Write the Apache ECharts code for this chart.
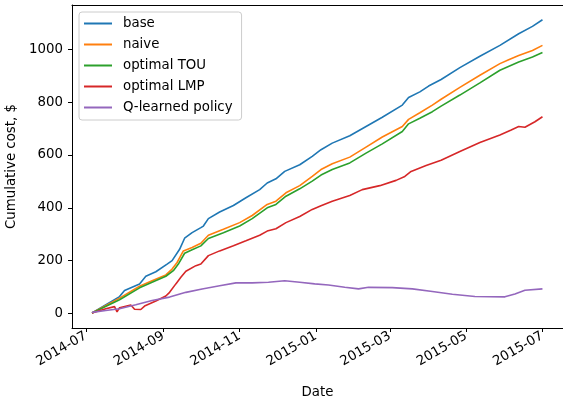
<!DOCTYPE html>
<html><head><meta charset="utf-8">
<script src="https://cdn.jsdelivr.net/npm/echarts@6/dist/echarts.min.js"></script>
<style>html,body{margin:0;padding:0;background:#fff;overflow:hidden}#c{width:563px;height:399px}</style>
</head><body><div id="c"></div>
<script>
const seriesNames = ['base', 'naive', 'optimal TOU', 'optimal LMP', 'Q-learned policy'];
const yTicks = [0, 200, 400, 600, 800, 1000];
const xTicks = ['2014-07-01', '2014-09-01', '2014-11-01', '2015-01-01', '2015-03-01', '2015-05-01', '2015-07-01'];

const base = [['2014-07-06',2],['2014-07-28',64],['2014-08-01',87],['2014-08-13',112],['2014-08-18',141],['2014-08-26',158],['2014-09-04',187],['2014-09-08',200],['2014-09-14',243],['2014-09-18',285],['2014-09-24',306],['2014-10-01',325],['2014-10-03',331],['2014-10-07',359],['2014-10-16',384],['2014-10-27',409],['2014-11-06',438],['2014-11-17',469],['2014-11-23',494],['2014-11-30',510],['2014-12-07',538],['2014-12-19',563],['2014-12-29',595],['2015-01-05',620],['2015-01-14',645],['2015-01-28',673],['2015-02-10',708],['2015-02-23',743],['2015-03-11',789],['2015-03-16',818],['2015-03-25',839],['2015-04-01',861],['2015-04-11',886],['2015-04-26',931],['2015-05-12',974],['2015-05-28',1015],['2015-06-12',1059],['2015-06-23',1087],['2015-07-01',1112]];

const naive = [['2014-07-06',2],['2014-07-28',58],['2014-08-13',103],['2014-08-23',124],['2014-09-03',146],['2014-09-08',168],['2014-09-12',193],['2014-09-17',237],['2014-09-24',250],['2014-10-01',266],['2014-10-07',296],['2014-10-19',319],['2014-11-01',344],['2014-11-11',371],['2014-11-23',413],['2014-11-30',425],['2014-12-08',457],['2014-12-19',484],['2014-12-29',519],['2015-01-05',545],['2015-01-14',567],['2015-01-28',592],['2015-02-10',630],['2015-02-23',668],['2015-03-11',708],['2015-03-16',735],['2015-03-25',760],['2015-04-04',789],['2015-04-11',811],['2015-04-26',856],['2015-05-12',902],['2015-05-28',946],['2015-06-04',961],['2015-06-12',977],['2015-06-23',996],['2015-07-01',1015]];

const optimalTOU = [['2014-07-06',2],['2014-07-28',52],['2014-08-13',97],['2014-08-23',118],['2014-09-03',141],['2014-09-09',162],['2014-09-13',187],['2014-09-18',228],['2014-09-24',241],['2014-10-01',256],['2014-10-07',284],['2014-10-19',306],['2014-11-01',331],['2014-11-11',359],['2014-11-23',400],['2014-11-30',413],['2014-12-08',444],['2014-12-19',472],['2014-12-29',501],['2015-01-05',524],['2015-01-14',545],['2015-01-28',570],['2015-02-10',607],['2015-02-23',642],['2015-03-11',689],['2015-03-16',718],['2015-03-25',739],['2015-04-04',764],['2015-04-11',785],['2015-04-26',827],['2015-05-12',873],['2015-05-28',921],['2015-06-12',952],['2015-06-23',971],['2015-07-01',988]];

const optimalLMP = [['2014-07-06',2],['2014-07-17',18],['2014-07-24',26],['2014-07-26',6],['2014-07-28',22],['2014-08-06',32],['2014-08-09',16],['2014-08-14',15],['2014-08-17',28],['2014-08-26',47],['2014-09-03',66],['2014-09-06',80],['2014-09-11',112],['2014-09-15',137],['2014-09-19',160],['2014-09-27',181],['2014-10-01',187],['2014-10-07',219],['2014-10-16',237],['2014-10-27',256],['2014-11-06',275],['2014-11-17',296],['2014-11-23',312],['2014-11-30',321],['2014-12-08',344],['2014-12-19',367],['2014-12-29',394],['2015-01-05',408],['2015-01-14',425],['2015-01-28',447],['2015-02-07',469],['2015-02-21',484],['2015-03-06',504],['2015-03-13',519],['2015-03-18',538],['2015-03-30',560],['2015-04-11',580],['2015-04-26',613],['2015-05-12',647],['2015-05-28',676],['2015-06-06',695],['2015-06-12',708],['2015-06-17',705],['2015-06-25',726],['2015-07-01',745]];

const qLearned = [['2014-07-06',4],['2014-07-17',11],['2014-07-28',18],['2014-08-10',33],['2014-08-23',49],['2014-09-06',62],['2014-09-19',80],['2014-10-02',93],['2014-10-16',105],['2014-10-29',116],['2014-11-11',116],['2014-11-24',118],['2014-12-07',124],['2014-12-19',118],['2014-12-31',112],['2015-01-11',108],['2015-01-24',99],['2015-02-04',93],['2015-02-12',99],['2015-03-03',98],['2015-03-19',93],['2015-04-04',83],['2015-04-20',73],['2015-05-08',64],['2015-06-01',63],['2015-06-09',74],['2015-06-17',88],['2015-07-01',93]];

const colors = ['#1f77b4', '#ff7f0e', '#2ca02c', '#d62728', '#9467bd'];
const allData = [base, naive, optimalTOU, optimalLMP, qLearned];

function ts(s) { const p = s.split('-').map(Number); return Date.UTC(p[0], p[1]-1, p[2]); }
function fmt(v) { const d = new Date(v); return d.getUTCFullYear() + '-' + String(d.getUTCMonth()+1).padStart(2,'0'); }

const chart = echarts.init(document.getElementById('c'), null, {renderer: 'canvas'});
const font = 'DejaVu Sans';
const fs = 13.33;
const xMin = ts('2014-06-20'), xMax = ts('2015-07-17') + 10 * 3600 * 1000;
chart.setOption({
  animation: false,
  backgroundColor: '#fff',
  textStyle: {fontFamily: font},
  grid: {left: 72, top: 5, right: 0, bottom: 71, containLabel: false, outerBoundsMode: 'none', show: false},
  legend: {
    orient: 'vertical', left: 79, top: 12,
    data: seriesNames,
    icon: 'rect', itemWidth: 28, itemHeight: 2, itemGap: 6,
    padding: [4, 9, 5, 5],
    backgroundColor: '#fff', borderColor: '#cccccc', borderWidth: 1, borderRadius: 3,
    textStyle: {fontFamily: font, fontSize: fs, color: '#000', lineHeight: 15, padding: [0, 0, 0, 6]}
  },
  graphic: [{
    type: 'rect', right: 0, top: 6, z: 100, silent: true,
    shape: {width: 5, height: 321},
    style: {fill: '#fff'}
  }],
  xAxis: [{
    type: 'value', position: 'bottom',
    min: xMin, max: xMax,
    name: 'Date', nameLocation: 'middle', nameGap: 58,
    nameTextStyle: {fontFamily: font, fontSize: fs, color: '#000'},
    axisLine: {show: true, onZero: false, lineStyle: {color: '#000', width: 1}},
    axisTick: {show: true, length: 4, lineStyle: {color: '#000'}, customValues: xTicks.map(ts)},
    axisLabel: {show: true, rotate: 30, margin: 7, fontFamily: font, fontSize: fs, color: '#000', customValues: xTicks.map(ts), formatter: fmt, hideOverlap: false},
    splitLine: {show: false}
  }, {
    type: 'value', position: 'top', min: xMin, max: xMax,
    axisLine: {show: true, onZero: false, lineStyle: {color: '#000', width: 1}},
    axisTick: {show: false}, axisLabel: {show: false}, splitLine: {show: false}
  }],
  yAxis: {
    type: 'value', min: -55, max: 1168,
    name: 'Cumulative cost, $', nameLocation: 'middle', nameGap: 52, nameRotate: 90,
    nameTextStyle: {fontFamily: font, fontSize: fs, color: '#000'},
    axisLine: {show: true, onZero: false, lineStyle: {color: '#000', width: 1}},
    axisTick: {show: true, length: 4, lineStyle: {color: '#000'}, customValues: yTicks},
    axisLabel: {show: true, margin: 9, fontFamily: font, fontSize: fs, color: '#000', customValues: yTicks, formatter: v => String(v)},
    splitLine: {show: false}
  },
  series: seriesNames.map((n, i) => ({
    name: n, type: 'line', showSymbol: false, symbol: 'none', xAxisIndex: 0,
    color: colors[i],
    lineStyle: {width: 1.6, color: colors[i]},
    data: allData[i].map(d => [ts(d[0]), d[1]])
  }))
});
</script>
</body></html>
